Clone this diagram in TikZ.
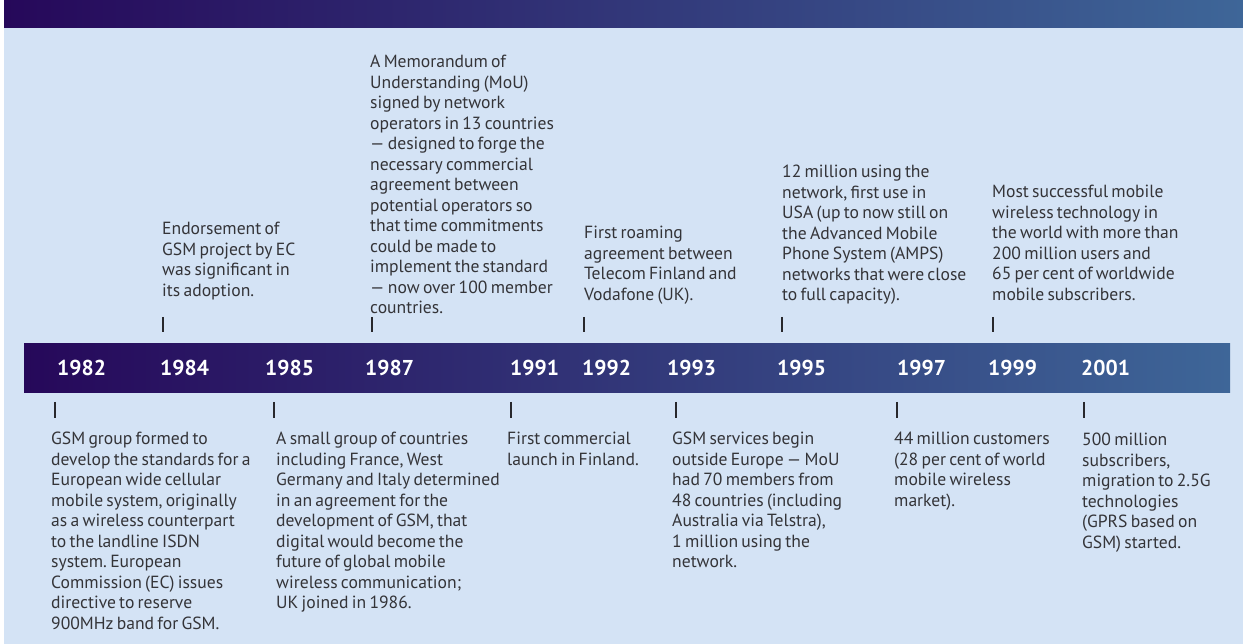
\documentclass[tikz,border=0pt]{standalone}
\usepackage{fontspec}
\setmainfont[WordSpace=0.7]{PT Sans}
\frenchspacing
\definecolor{bgblue}{RGB}{212,227,245}
\definecolor{darkend}{RGB}{38,8,90}
\definecolor{lightend}{RGB}{62,102,152}
\definecolor{notegray}{RGB}{52,52,56}
\definecolor{tickgray}{RGB}{40,40,44}
\begin{document}
\begin{tikzpicture}[x=1pt,y=-1pt,
    note/.style={anchor=north west,inner sep=0pt,align=left,text=notegray,
      font=\fontsize{17.6}{20.5}\selectfont},
    year/.style={anchor=base west,inner sep=0pt,text=white,
      font=\fontsize{21.5}{21.5}\selectfont\bfseries},
    tick/.style={line width=1.4pt,draw=tickgray}]
    \useasboundingbox (0,0) rectangle (1243,644);
    \fill[white] (0,0) rectangle (1243,644);
    \fill[bgblue] (4,28) rectangle (1243,644);% panel
    \shade[left color=darkend,right color=lightend] (4,0) rectangle (1243,28);% header band
    \shade[left color=darkend,right color=lightend] (24,344) rectangle (1230,393);% time bar
    \foreach \x/\yr in {57/1982,160/1984,265/1985,365/1987,510/1991,582/1992,
      667/1993,777/1995,897/1997,988/1999,1081/2001}{% years on the bar
      \node[year] (y\yr) at (\x,376) {\yr};}
    \foreach \x in {163,372,584,782,993}{% ticks above the bar
      \draw[tick] (\x,317) -- (\x,332);}
    \foreach \x in {55,274,511,676,897,1084}{% ticks below the bar
      \draw[tick] (\x,402) -- (\x,418);}
    % events above the bar
    \node[note] (n1984) at (162,222) {Endorsement of\\GSM project by EC\\was significant in\\its adoption.};
    \node[note] (n1987) at (370,55) {A Memorandum of\\Understanding (MoU)\\signed by network\\operators in 13 countries\\— designed to forge the\\necessary commercial\\agreement between\\potential operators so\\that time commitments\\could be made to\\implement the standard\\— now over 100 member\\countries.};
    \node[note] (n1992) at (584,226) {First roaming\\agreement between\\Telecom Finland and\\Vodafone (UK).};
    \node[note] (n1995) at (782,165) {12 million using the\\network, first use in\\USA (up to now still on\\the Advanced Mobile\\Phone System (AMPS)\\networks that were close\\to full capacity).};
    \node[note] (n1999) at (992,185) {Most successful mobile\\wireless technology in\\the world with more than\\200 million users and\\65 per cent of worldwide\\mobile subscribers.};
    % events below the bar
    \node[note] (n1982) at (51,432) {GSM group formed to\\develop the standards for a\\European wide cellular\\mobile system, originally\\as a wireless counterpart\\to the landline ISDN\\system. European\\Commission (EC) issues\\directive to reserve\\900MHz band for GSM.};
    \node[note] (n1985) at (276,432) {A small group of countries\\including France, West\\Germany and Italy determined\\in an agreement for the\\development of GSM, that\\digital would become the\\future of global mobile\\wireless communication;\\UK joined in 1986.};
    \node[note] (n1991) at (507,432) {First commercial\\launch in Finland.};
    \node[note] (n1993) at (672,432) {GSM services begin\\outside Europe — MoU\\had 70 members from\\48 countries (including\\Australia via Telstra),\\1 million using the\\network.};
    \node[note] (n1997) at (894,432) {44 million customers\\(28 per cent of world\\mobile wireless\\market).};
    \node[note] (n2001) at (1082,433) {500 million\\subscribers,\\migration to 2.5G\\technologies\\(GPRS based on\\GSM) started.};
\end{tikzpicture}
\end{document}
